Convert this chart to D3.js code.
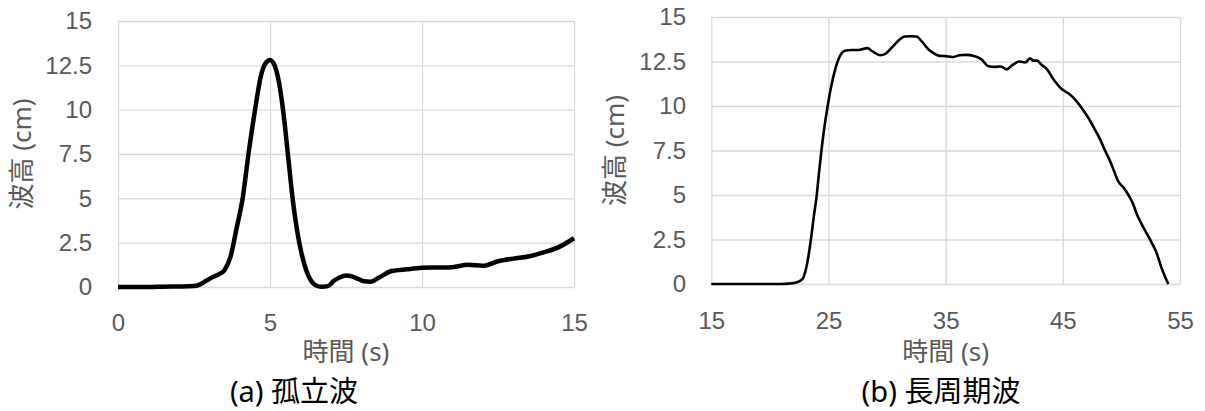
<!DOCTYPE html>
<html>
<head>
<meta charset="utf-8">
<script src="https://cdn.jsdelivr.net/npm/d3@7"></script>
<style>
  body { margin: 0; background: #fff; }
  svg { display: block; font-family: "Noto Sans", "Noto Sans CJK JP", sans-serif; }
</style>
</head>
<body>
<svg id="chart" width="1205" height="411"></svg>
<script>
// (a) solitary wave
const soloTime = [0, 0.5, 1, 1.5, 2, 2.5, 2.7, 2.9, 3.1, 3.3, 3.5, 3.7, 3.9, 4.1, 4.3, 4.5, 4.7, 4.85, 5,
  5.15, 5.3, 5.45, 5.6, 5.75, 5.9, 6.05, 6.2, 6.35, 6.5, 6.7, 6.9, 7.1, 7.3, 7.5, 7.7, 7.9, 8.1, 8.3, 8.6,
  9, 9.5, 10, 10.5, 11, 11.5, 12, 12.5, 13, 13.5, 14, 14.5, 15];
const soloHeight = [0, 0, 0, 0.02, 0.03, 0.05, 0.15, 0.35, 0.55, 0.7, 0.95, 1.7, 3.3, 5.0, 7.6, 9.9, 11.9, 12.6, 12.8,
  12.5, 11.5, 9.7, 7.3, 4.9, 3.1, 1.8, 0.9, 0.35, 0.1, 0.02, 0.05, 0.35, 0.55, 0.65, 0.6, 0.45, 0.32, 0.3, 0.55,
  0.9, 1.0, 1.08, 1.1, 1.12, 1.25, 1.2, 1.45, 1.6, 1.72, 1.95, 2.25, 2.75];

// (b) long period wave
const longTime = [15, 17, 19, 21, 21.6, 22.0, 22.4, 22.8, 23.1, 23.3, 23.5, 23.75, 24.0, 24.2, 24.4, 24.65, 24.93,
  25.2, 25.55, 25.9, 26.4, 27.0, 27.6, 28.3, 28.8, 29.4, 29.9, 30.5, 31.1, 31.5, 32.0, 32.5, 33.0, 33.5, 34.0,
  34.4, 35.0, 35.6, 36.2, 36.7, 37.5, 38.1, 38.6, 39.2, 39.7, 40.2, 40.7, 41.3, 41.8, 42.2, 42.5, 42.8, 43.2,
  43.6, 44.2, 44.9, 45.5, 46.2, 46.7, 47.3, 47.8, 48.2, 48.6, 49.0, 49.4, 49.7, 50.2, 50.6, 51.0, 51.3, 51.7,
  52.15, 52.6, 53.0, 53.4, 53.7, 54.0];
const longHeight = [0, 0, 0, 0, 0.02, 0.05, 0.12, 0.3, 0.9, 1.6, 2.5, 3.8, 5.0, 6.3, 7.5, 8.8, 10,
  11.0, 12.0, 12.7, 13.1, 13.15, 13.15, 13.25, 13.05, 12.85, 12.95, 13.35, 13.75, 13.9, 13.92, 13.9, 13.6, 13.2, 12.95,
  12.83, 12.8, 12.75, 12.85, 12.87, 12.8, 12.6, 12.25, 12.2, 12.22, 12.06, 12.3, 12.5, 12.45, 12.68, 12.55, 12.55, 12.3,
  12.1, 11.5, 10.95, 10.7, 10.25, 9.8, 9.2, 8.6, 8.1, 7.5, 6.95, 6.3, 5.8, 5.4, 5.0, 4.5, 3.95, 3.4,
  2.85, 2.3, 1.75, 0.95, 0.45, 0];

const yTicks = [0, 2.5, 5, 7.5, 10, 12.5, 15];
const soloXTicks = [0, 5, 10, 15];
const longXTicks = [15, 25, 35, 45, 55];
const yLabel = "波高 (cm)";
const xLabel = "時間 (s)";

const svg = d3.select("#chart");
svg.append("rect").attr("width", 1205).attr("height", 411).attr("fill", "#fff");

function drawPanel(opt) {
  const x = d3.scaleLinear().domain(opt.xDomain).range([opt.left, opt.right]);
  const y = d3.scaleLinear().domain([0, 15]).range([opt.bottom, opt.top]);
  const g = svg.append("g");

  // gridlines
  g.append("g")
    .attr("transform", `translate(0,${opt.bottom})`)
    .call(d3.axisBottom(x).tickValues(opt.xTicks).tickSize(-(opt.bottom - opt.top)).tickFormat(""))
    .call(a => a.select(".domain").remove())
    .call(a => a.selectAll("line").attr("stroke", "#d9d9d9").attr("stroke-width", 1.3));
  g.append("g")
    .attr("transform", `translate(${opt.left},0)`)
    .call(d3.axisLeft(y).tickValues(yTicks).tickSize(-(opt.right - opt.left)).tickFormat(""))
    .call(a => a.select(".domain").remove())
    .call(a => a.selectAll("line").attr("stroke", "#d9d9d9").attr("stroke-width", 1.3));

  // tick labels
  g.append("g")
    .attr("transform", `translate(0,${opt.bottom})`)
    .call(d3.axisBottom(x).tickValues(opt.xTicks).tickSize(0).tickPadding(opt.xPad).tickFormat(d3.format("")))
    .call(a => a.select(".domain").remove())
    .call(a => a.selectAll("text").attr("fill", "#595959").attr("font-size", 24).attr("font-family", null));
  g.append("g")
    .attr("transform", `translate(${opt.yLabelX},0)`)
    .call(d3.axisLeft(y).tickValues(yTicks).tickSize(0).tickPadding(0).tickFormat(d3.format("")))
    .call(a => a.select(".domain").remove())
    .call(a => a.selectAll("text").attr("fill", "#595959").attr("font-size", 24).attr("font-family", null));

  // the wave
  const pts = opt.time.map((t, i) => [t, opt.height[i]]);
  g.append("path")
    .datum(pts)
    .attr("fill", "none")
    .attr("stroke", "#000")
    .attr("stroke-width", opt.lineWidth)
    .attr("stroke-linejoin", "round")
    .attr("d", d3.line().x(d => x(d[0])).y(d => y(d[1])).curve(d3.curveMonotoneX));

  // titles
  const cx = (opt.left + opt.right) / 2;
  g.append("text")
    .attr("x", cx).attr("y", opt.xTitleY)
    .attr("text-anchor", "middle").attr("fill", "#595959").attr("font-size", 26)
    .text(xLabel);
  g.append("text")
    .attr("transform", `translate(${opt.yTitleX},${(opt.top + opt.bottom) / 2}) rotate(-90)`)
    .attr("text-anchor", "middle").attr("dy", "0.35em").attr("fill", "#595959").attr("font-size", 26)
    .text(yLabel);
  g.append("text")
    .attr("x", opt.captionX).attr("y", 402)
    .attr("text-anchor", "middle").attr("fill", "#000").attr("font-size", 29)
    .text(opt.caption);
}

drawPanel({
  xDomain: [0, 15], xTicks: soloXTicks, time: soloTime, height: soloHeight,
  left: 118, right: 574, top: 21, bottom: 287, yLabelX: 92, xPad: 27,
  xTitleY: 361, yTitleX: 22, captionX: 294, caption: "(a) 孤立波", lineWidth: 4.5
});

drawPanel({
  xDomain: [15, 55], xTicks: longXTicks, time: longTime, height: longHeight,
  left: 711.3, right: 1180, top: 17, bottom: 284, yLabelX: 686, xPad: 28,
  xTitleY: 361, yTitleX: 615, captionX: 941, caption: "(b) 長周期波", lineWidth: 2.6
});
</script>
</body>
</html>
